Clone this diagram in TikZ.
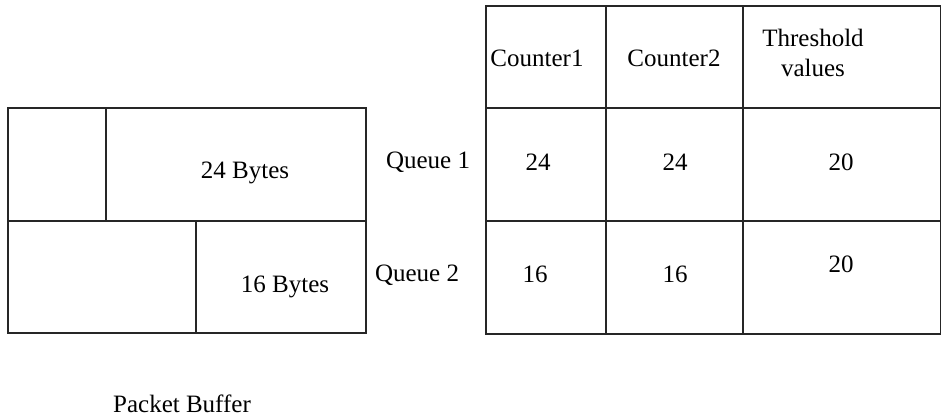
\documentclass[tikz,border=0pt]{standalone}
\usepackage{fontspec}
\setmainfont{Liberation Serif}
\begin{document}
\begin{tikzpicture}[x=1pt,y=-1pt,
  cell/.style={draw=black!85,line width=1.2pt},
  lbl/.style={inner sep=0pt,font=\fontsize{25}{28}\selectfont,align=center}]
\useasboundingbox (0,0) rectangle (942,420);
% packet buffer
\draw[cell] (8,108) rectangle (366,221);
\draw[cell] (8,221) rectangle (366,333);
\draw[cell] (106,108) -- (106,221);
\draw[cell] (196,221) -- (196,333);
\node[lbl] (b24) at (245,173) {24 Bytes};
\node[lbl] (b16) at (285,287) {16 Bytes};
\node[lbl] (pb) at (182,404) {Packet Buffer};
% queue labels
\node[lbl] (q1) at (428,162) {Queue 1};
\node[lbl] (q2) at (417,275) {Queue 2};
% table
\draw[cell] (486,6) rectangle (940.5,334);
\draw[cell] (486,108) -- (940.5,108);
\draw[cell] (486,221) -- (940.5,221);
\draw[cell] (606,6) -- (606,334);
\draw[cell] (743,6) -- (743,334);
\node[lbl] (c1) at (537,58) {Counter1};
\node[lbl] (c2) at (674,58) {Counter2};
\node[lbl,font=\fontsize{25}{30}\selectfont] (th) at (813,53) {Threshold\\values};
\node[lbl] (v11) at (538,162) {24};
\node[lbl] (v12) at (675,162) {24};
\node[lbl] (v13) at (841,162) {20};
\node[lbl] (v21) at (535,274) {16};
\node[lbl] (v22) at (675,274) {16};
\node[lbl] (v23) at (841,264) {20};
\end{tikzpicture}
\end{document}
